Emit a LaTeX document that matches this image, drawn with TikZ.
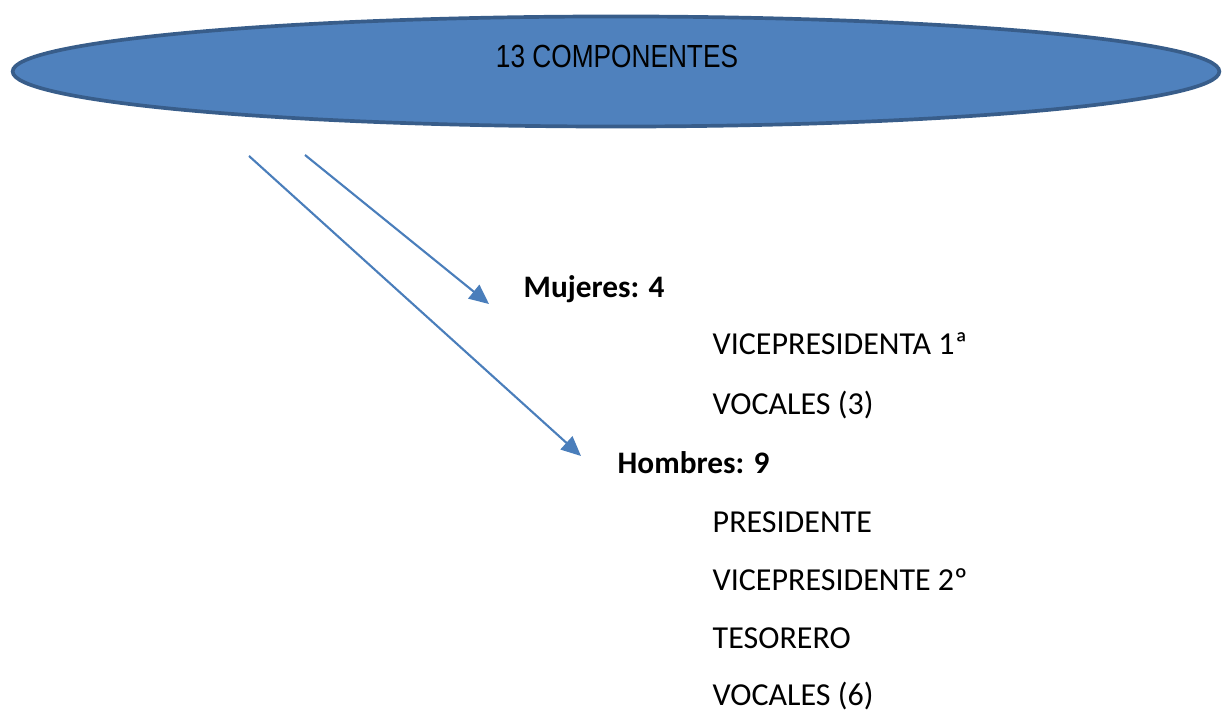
\documentclass[tikz,border=0pt]{standalone}
\usepackage{fontspec}
\setmainfont{Carlito}
\newfontfamily\arialf{Liberation Sans}
\usetikzlibrary{shapes.geometric,arrows.meta}
\definecolor{fillblue}{HTML}{4F81BD}
\definecolor{edgeblue}{HTML}{385D8A}
\definecolor{arrowblue}{HTML}{4A7EBB}
\tikzset{
  oval/.style={ellipse, draw=edgeblue, fill=fillblue, line width=1.05pt, inner sep=0pt,
    minimum width=12.06cm, minimum height=1.10cm},
  title/.style={font=\arialf\fontsize{9.1pt}{10pt}\selectfont, xscale=0.82, inner sep=0pt, anchor=base},
  group/.style={font=\fontsize{8.9pt}{10pt}\selectfont\bfseries, inner sep=0pt, anchor=base west},
  item/.style={font=\fontsize{9.1pt}{10pt}\selectfont, inner sep=0pt, anchor=base west},
  link/.style={draw=arrowblue, line width=0.6pt, -{Triangle[length=5.6pt,width=5pt]}}
}
\begin{document}
\begin{tikzpicture}[x=0.01cm,y=-0.01cm]
\useasboundingbox (0,0) rectangle (1222,713);
\node[oval] (ell) at (616,71.5) {};
\node[title] (t) at (617,68) {13 COMPONENTES};
\node[group] (muj) at (523,298) {Mujeres: 4};
\node[item] (vp1) at (712,355) {VICEPRESIDENTA 1ª};
\node[item] (voc3) at (712,415) {VOCALES (3)};
\node[group] (hom) at (617,473) {Hombres: 9};
\node[item] (pres) at (712,532) {PRESIDENTE};
\node[item] (vp2) at (712,590) {VICEPRESIDENTE 2º};
\node[item] (tes) at (712,648) {TESORERO};
\node[item] (voc6) at (712,705) {VOCALES (6)};
\coordinate (s1) at (305,155);
\coordinate (e1) at (489,304);
\coordinate (s2) at (249,156);
\coordinate (e2) at (581,456);
\draw[link] (s1) -- (e1);
\draw[link] (s2) -- (e2);
\end{tikzpicture}
\end{document}
